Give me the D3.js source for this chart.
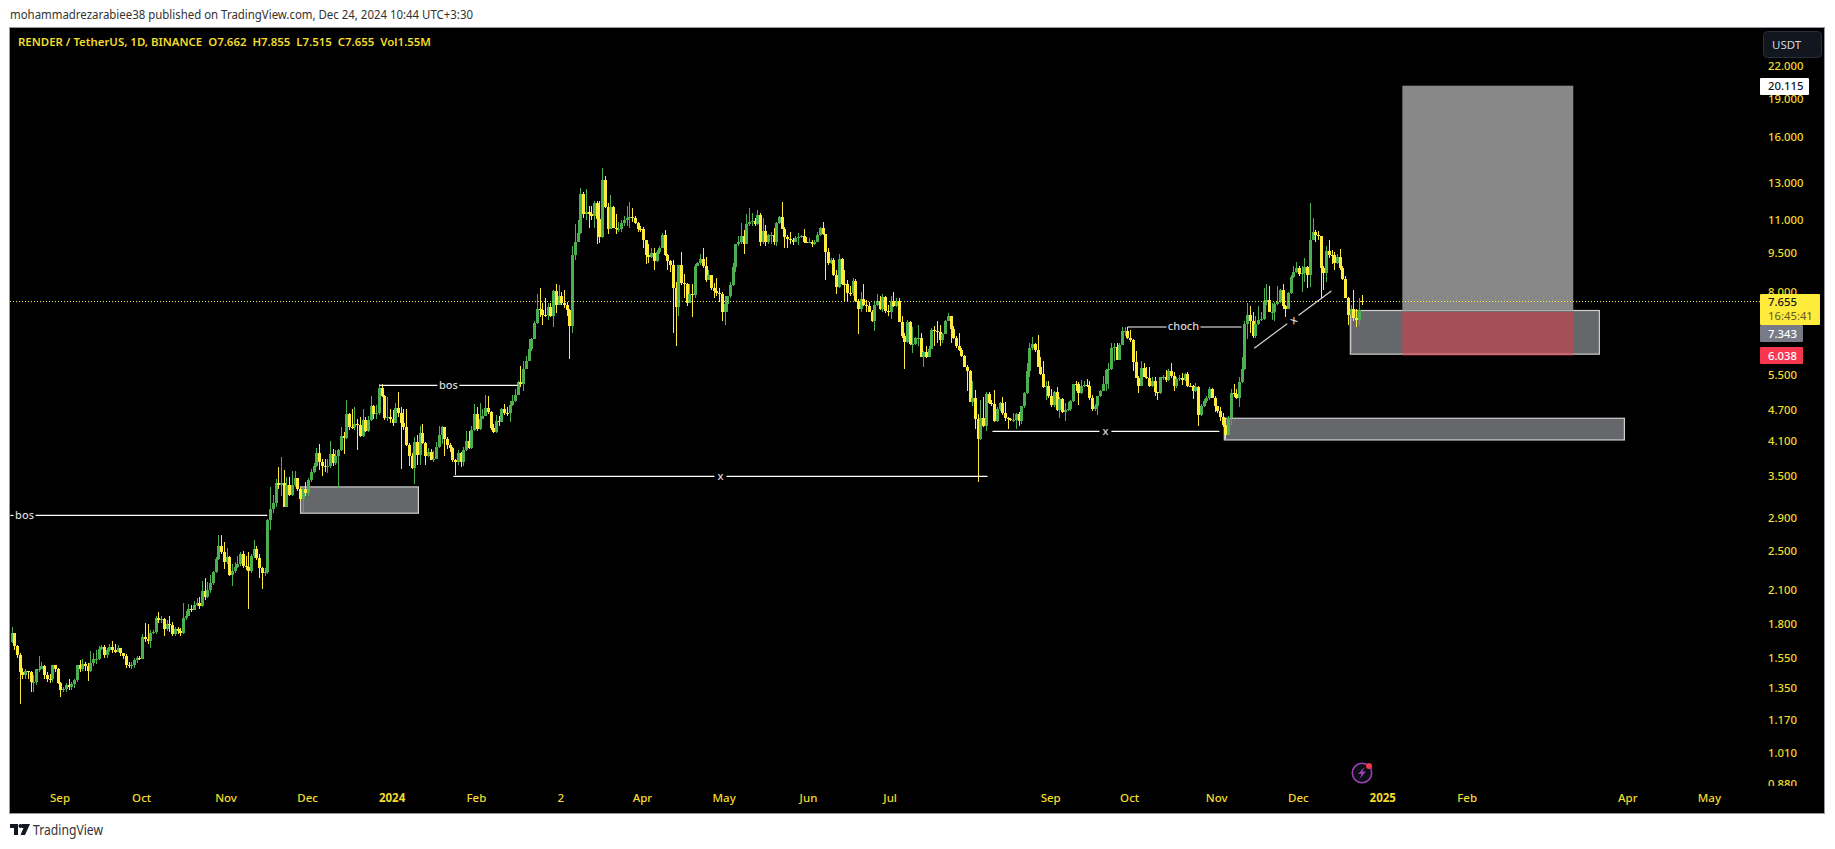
<!DOCTYPE html>
<html><head><meta charset="utf-8">
<script src="https://cdn.jsdelivr.net/npm/d3@7/dist/d3.min.js"></script>
<style>
html,body{margin:0;padding:0;background:#fff;overflow:hidden}
svg{display:block}
text{font-family:"Noto Sans",sans-serif}
.tick text{fill:#f2dc2c}
</style></head><body>
<script>
const closes=[1.73,1.63,1.57,1.45,1.43,1.46,1.45,1.39,1.39,1.47,1.475,1.49,1.43,1.41,1.405,1.50,1.47,1.38,1.34,1.345,
1.37,1.36,1.375,1.40,1.50,1.47,1.505,1.49,1.46,1.51,1.54,1.54,1.61,1.625,1.57,1.60,1.625,1.60,1.59,1.62,
1.58,1.56,1.50,1.49,1.50,1.53,1.545,1.54,1.70,1.685,1.67,1.73,1.74,1.85,1.83,1.84,1.76,1.80,1.795,1.72,
1.76,1.745,1.73,1.85,1.87,1.93,1.92,1.96,1.975,1.95,2.09,2.03,2.10,2.16,2.27,2.41,2.56,2.49,2.38,2.43,
2.24,2.28,2.33,2.36,2.47,2.34,2.33,2.28,2.44,2.52,2.42,2.31,2.26,2.27,2.87,3.02,3.10,3.39,3.36,3.39,
3.05,3.36,3.21,3.36,3.46,3.30,3.16,3.30,3.24,3.43,3.56,3.66,3.88,3.73,3.66,3.64,3.65,3.86,3.71,3.82,
3.93,4.18,4.15,4.62,4.36,4.35,4.41,4.39,4.18,4.49,4.28,4.49,4.79,4.62,4.64,5.18,5.00,4.53,4.55,4.52,
4.44,4.74,4.64,4.43,4.36,4.02,3.82,3.63,4.07,3.85,4.24,4.05,3.83,3.90,3.76,3.78,3.98,4.20,4.36,4.13,
4.02,3.97,3.75,3.73,3.88,3.72,3.93,4.09,3.97,4.30,4.62,4.32,4.51,4.58,4.74,4.66,4.34,4.26,4.47,4.45,
4.72,4.64,4.63,4.81,4.90,5.03,5.33,5.28,5.66,5.85,6.17,6.47,6.93,7.40,7.37,7.20,7.19,7.45,7.15,8.0,
7.51,7.85,7.61,7.54,7.35,6.85,9.40,10.0,10.4,12.4,11.3,11.4,11.3,11.2,11.9,11.05,10.2,13.2,11.7,10.6,
11.7,10.65,10.6,10.6,10.85,11.0,11.1,11.15,11.12,10.85,10.6,10.58,10.05,9.4,9.35,9.5,9.18,9.55,9.72,10.3,
9.4,9.18,9.0,8.13,7.45,9.0,8.3,8.28,7.6,7.9,7.86,8.97,9.1,9.26,8.95,8.43,8.62,8.13,8.03,7.93,
7.9,7.29,7.57,7.82,8.24,8.93,9.88,9.96,10.25,9.9,10.8,10.9,10.95,10.8,11.25,10.0,10.5,10.0,10.3,10.3,
10.0,10.85,11.15,10.6,10.2,10.1,10.08,10.0,10.15,10.22,10.25,10.0,9.98,10.0,9.9,10.0,10.3,10.65,10.35,9.56,
9.1,9.22,8.62,8.17,9.27,8.28,8.27,7.95,7.93,8.38,7.67,7.4,7.74,7.54,7.48,7.3,7.0,7.54,7.65,7.4,
7.8,7.33,7.3,7.67,7.5,7.65,6.98,6.55,6.37,6.98,6.33,6.33,6.49,6.5,5.95,6.1,5.97,6.17,6.72,6.7,
6.68,6.42,6.6,7.02,7.15,6.75,6.48,6.25,6.15,5.98,5.7,5.6,4.88,4.96,4.51,4.13,4.53,4.37,5.05,4.86,
4.83,4.47,4.72,4.86,4.64,4.53,4.52,4.49,4.49,4.62,4.47,4.79,5.08,5.6,6.2,6.32,6.15,5.7,5.52,5.21,
5.23,5.0,4.81,5.1,4.7,4.94,4.66,4.7,4.72,4.9,5.28,5.27,5.07,5.24,5.26,5.23,4.97,4.72,4.79,5.0,
5.12,5.28,5.62,5.64,6.2,6.23,5.88,6.3,6.69,6.7,6.5,6.43,5.82,5.43,5.24,5.68,5.45,5.43,5.24,5.35,
5.1,5.08,5.46,5.46,5.38,5.6,5.47,5.23,5.4,5.42,5.37,5.52,5.24,5.23,5.11,5.21,4.6,4.79,4.9,4.95,
5.16,4.97,4.79,4.69,4.56,4.4,4.2,4.53,5.07,5.05,4.97,5.33,5.64,6.92,7.2,7.0,6.55,6.9,7.05,7.08,
7.67,7.7,7.3,7.3,7.55,7.62,8.05,7.48,7.4,7.93,8.55,8.74,8.88,8.65,8.7,8.93,8.6,10.08,10.45,10.28,
10.25,8.9,8.7,9.6,9.42,9.4,9.08,9.35,8.9,8.47,7.78,7.2,7.38,7.1,7.03,7.35,7.655];
const highs=[1.78,1.73,1.64,1.58,1.48,1.47,1.45,1.46,1.43,1.47,1.56,1.52,1.50,1.45,1.44,1.50,1.50,1.48,1.39,1.36,
1.38,1.405,1.39,1.41,1.50,1.53,1.54,1.52,1.51,1.595,1.58,1.60,1.63,1.64,1.64,1.62,1.65,1.67,1.65,1.64,
1.62,1.58,1.575,1.52,1.52,1.55,1.56,1.56,1.72,1.81,1.80,1.75,1.75,1.87,1.90,1.87,1.85,1.83,1.87,1.82,
1.78,1.78,1.77,1.98,1.91,1.97,1.96,2.00,2.02,2.03,2.18,2.21,2.17,2.24,2.28,2.43,2.68,2.69,2.60,2.53,
2.44,2.36,2.38,2.44,2.49,2.50,2.44,2.49,2.46,2.63,2.56,2.47,2.33,2.31,2.89,3.33,3.21,3.45,3.64,3.80,
3.60,3.48,3.48,3.58,3.58,3.47,3.33,3.34,3.40,3.46,3.61,3.71,3.96,4.03,3.78,3.78,3.77,4.09,3.95,3.93,
3.95,4.36,4.26,4.92,4.64,4.72,4.77,4.51,4.55,4.72,4.55,4.57,5.00,4.81,4.81,5.28,5.28,5.03,4.98,4.72,
4.70,4.85,5.09,4.77,4.72,4.72,4.05,3.88,4.17,4.20,4.38,4.42,4.07,3.97,3.95,3.91,4.07,4.38,4.38,4.36,
4.17,4.05,3.98,3.78,3.93,3.90,3.99,4.28,4.28,4.38,4.83,4.77,4.85,4.72,5.03,5.00,4.68,4.41,4.60,4.58,
4.74,4.83,4.77,4.90,5.03,5.16,5.35,5.73,5.85,5.98,6.47,6.50,6.99,7.92,8.13,7.58,7.78,7.60,7.58,8.06,
8.28,8.25,7.99,8.06,7.64,7.40,9.82,10.8,11.0,12.7,12.5,12.65,11.75,11.75,12.0,12.0,12.0,13.9,13.4,11.9,
12.3,11.75,11.3,10.9,11.02,11.2,11.75,11.95,11.6,11.2,10.92,10.73,10.68,10.08,9.9,9.73,9.73,9.64,9.82,10.4,
10.54,9.47,9.22,9.22,8.36,9.0,9.56,8.66,8.32,8.28,8.28,9.06,9.14,9.47,9.73,9.35,8.82,8.62,8.32,8.51,
8.13,7.96,7.85,7.85,8.36,9.1,9.9,10.26,10.85,10.54,11.3,11.6,11.35,11.12,11.5,11.35,11.12,10.78,10.35,10.44,
10.63,10.92,11.2,11.95,10.68,10.3,10.44,10.17,10.26,10.4,10.3,10.58,10.2,10.17,10.08,10.08,10.44,10.7,10.9,10.35,
9.73,9.3,9.3,8.82,9.47,9.3,8.82,8.4,8.21,8.51,8.47,7.72,7.99,8.28,7.68,7.64,7.36,7.62,7.92,7.82,
7.92,7.85,7.54,7.82,7.99,7.78,7.78,7.18,6.63,7.05,7.0,6.81,6.51,6.87,6.63,6.12,6.25,6.25,6.78,6.84,
7.02,6.87,6.63,7.03,7.25,7.18,6.84,6.54,6.63,6.2,6.01,5.75,5.62,5.35,5.14,4.62,4.92,4.98,5.1,5.1,
4.92,5.14,4.77,4.87,4.98,4.87,4.56,4.54,4.64,4.64,4.66,4.79,5.1,5.8,6.34,6.51,6.36,6.57,5.95,5.85,
5.35,5.35,5.16,5.12,5.21,4.98,4.96,4.85,4.87,4.92,5.28,5.35,5.33,5.38,5.35,5.4,5.35,5.03,4.83,5.0,
5.14,5.47,5.64,5.8,6.34,6.34,6.34,6.36,6.81,6.81,6.81,6.72,6.45,6.12,5.47,5.85,5.8,5.7,5.7,5.45,
5.45,5.1,5.46,5.5,5.62,5.64,5.8,5.58,5.45,5.5,5.55,5.55,5.58,5.31,5.26,5.31,5.23,4.83,4.94,5.0,
5.21,5.18,5.0,4.77,4.77,4.64,4.54,4.58,5.16,5.28,5.16,5.45,5.95,6.99,7.6,7.5,7.31,7.15,7.5,7.31,
8.13,8.28,8.2,7.6,7.62,8.2,8.1,8.28,7.51,7.99,8.6,8.98,9.14,8.95,8.95,9.3,8.98,11.88,11.12,10.54,
10.49,10.26,8.95,9.82,10.08,9.64,9.56,9.47,9.68,8.95,8.58,7.8,7.51,8.06,7.38,7.78,7.855];
const lows=[1.655,1.60,1.55,1.26,1.41,1.41,1.41,1.33,1.33,1.37,1.45,1.47,1.41,1.39,1.38,1.39,1.45,1.375,1.30,1.33,
1.33,1.34,1.34,1.35,1.39,1.45,1.46,1.46,1.395,1.45,1.49,1.505,1.53,1.60,1.55,1.55,1.59,1.58,1.58,1.59,
1.56,1.54,1.48,1.48,1.475,1.48,1.51,1.53,1.54,1.66,1.65,1.62,1.72,1.72,1.81,1.81,1.71,1.745,1.74,1.71,
1.71,1.72,1.71,1.72,1.83,1.87,1.90,1.92,1.95,1.93,1.94,2.01,2.02,2.07,2.15,2.26,2.40,2.47,2.30,2.36,
2.23,2.14,2.26,2.31,2.34,2.31,2.29,1.93,2.26,2.42,2.40,2.21,2.11,2.23,2.25,2.75,2.96,3.05,3.30,3.19,
3.04,3.05,3.20,3.20,3.33,3.27,3.12,2.98,3.19,3.19,3.40,3.55,3.64,3.60,3.50,3.56,3.55,3.63,3.66,3.68,
3.32,3.91,3.86,4.13,4.30,4.31,4.30,3.93,4.17,4.17,4.26,4.26,4.47,4.52,4.51,4.60,4.98,4.50,4.48,4.44,
4.37,4.43,4.56,3.61,4.30,4.00,3.66,3.61,3.38,3.68,3.68,4.03,3.68,3.80,3.75,3.73,3.77,3.97,4.04,3.82,
3.95,3.89,3.73,3.51,3.68,3.64,3.66,3.91,3.95,3.95,4.28,4.28,4.30,4.51,4.60,4.62,4.30,4.24,4.24,4.37,
4.45,4.60,4.58,4.45,4.79,4.88,5.03,5.21,5.12,5.64,5.85,6.12,6.45,6.90,7.12,6.87,7.12,7.05,7.12,6.81,
7.25,7.51,7.51,7.44,7.18,5.90,6.63,9.22,10.0,10.35,11.1,11.02,10.63,11.02,10.63,9.9,9.95,10.17,11.65,10.35,
10.6,10.63,10.35,10.44,10.44,10.73,10.73,10.63,10.92,10.82,10.44,10.44,9.73,9.06,9.1,9.3,8.82,9.14,9.47,9.7,
9.37,8.82,8.74,6.63,6.25,7.15,8.25,7.78,7.5,7.58,7.12,7.78,8.95,9.02,8.88,8.36,8.4,8.06,7.78,7.82,
7.64,7.0,6.87,7.31,7.78,8.21,8.74,9.82,9.9,9.47,9.9,10.73,10.73,10.73,10.78,9.82,9.9,9.82,9.9,9.9,
9.86,9.82,10.82,10.58,9.73,9.7,9.9,9.86,9.96,9.86,10.17,9.95,9.95,9.95,9.78,9.86,9.99,10.26,10.3,8.4,
9.0,9.05,8.58,7.9,8.13,8.25,7.64,7.64,7.85,7.85,7.64,6.6,7.31,7.49,7.31,7.28,6.97,6.7,7.5,7.36,
7.31,7.27,7.15,7.08,7.46,7.47,6.97,6.5,5.66,6.34,6.3,6.06,6.3,6.25,5.95,5.7,5.94,5.95,6.17,6.25,
6.34,6.25,6.36,6.63,6.99,6.34,6.45,6.2,6.12,5.95,5.7,5.12,4.87,4.79,4.32,3.40,4.11,4.35,4.28,4.83,
4.79,4.46,4.46,4.68,4.6,4.47,4.32,4.47,4.45,4.32,4.37,4.41,4.75,5.05,5.45,6.15,6.1,5.7,5.5,5.19,
4.92,4.97,4.77,4.77,4.68,4.54,4.64,4.47,4.68,4.68,4.88,5.12,4.81,5.06,5.2,5.21,4.92,4.68,4.68,4.6,
4.98,5.12,5.12,5.16,5.62,5.85,5.87,5.87,6.28,6.55,6.45,6.39,5.6,5.43,5.08,5.23,5.44,5.4,5.21,5.21,
5.0,4.92,5.05,5.38,5.33,5.35,5.43,5.12,5.19,5.35,5.26,5.35,5.22,5.21,4.94,5.1,4.37,4.58,4.77,4.85,
4.92,4.95,4.66,4.64,4.47,4.36,4.13,4.2,4.39,4.98,4.94,4.77,5.31,5.62,6.45,6.63,6.5,6.5,6.87,6.99,
7.05,7.54,7.28,7.05,7.02,7.51,7.58,7.38,7.12,7.38,7.92,8.51,8.7,8.58,7.99,8.36,8.13,8.16,10.08,9.96,
10.08,7.78,8.06,8.36,9.3,9.06,8.82,9.05,8.82,8.43,7.75,6.87,6.1,6.99,6.81,6.87,7.515];
const firstOpen=1.66, lastOpen=7.662;

const priceTicks=[22,19,16,13,11,9.5,8,6.5,5.5,4.7,4.1,3.5,2.9,2.5,2.1,1.8,1.55,1.35,1.17,1.01,0.88];
const timeBars=[18,48,79,109,140,171,202,232,262,293,323,382,411,443,473,504,535,594,624];
const timeLabels=["Sep","Oct","Nov","Dec","2024","Feb","2","Apr","May","Jun","Jul","Sep","Oct","Nov","Dec","2025","Feb","Apr","May"];
const boldLabels=["2024","2025"];

const hLines=[
 {a:-0.4,b:94,p:2.93,t:"bos",c:4.8,gap:11},
 {a:135.2,b:185.9,p:5.25,t:"bos",c:160.5,gap:11},
 {a:162.4,b:358.6,p:3.49,t:"x",c:260.5,gap:6},
 {a:360.4,b:443.8,p:4.27,t:"x",c:401.9,gap:6},
 {a:410,b:451.9,p:6.82,t:"choch",c:430.6,gap:17}];
const zones=[{a:106.2,b:149.5,top:3.33,bot:2.96},{a:445.6,b:592.6,top:4.53,bot:4.11},{a:491.9,b:583.4,top:7.343,bot:6.038}];
const diag={a:456.6,pa:6.2,b:484.9,pb:8.01,c:471,pc:7.03};
const longPos={a:511,b:573.8,target:20.115,entry:7.343,stop:6.038};
const lastPrice=7.655;

const W=1835,H=849;
const x=d3.scaleLinear().domain([0,closes.length-1]).range([11.5,1361.5]);
const y=d3.scaleLog().domain([22,0.88]).range([65.7,783.8]);
const UP="#4caf50",DOWN="#ffeb3b";
const bars=closes.map((c,i)=>({i,c,h:highs[i],l:lows[i],o:i===0?firstOpen:(i===closes.length-1?lastOpen:closes[i-1])}));

const svg=d3.select("body").append("svg").attr("width",W).attr("height",H).attr("viewBox",`0 0 ${W} ${H}`);
const defs=svg.append("defs");
defs.append("clipPath").attr("id","pane").append("rect").attr("x",10).attr("y",28).attr("width",1750).attr("height",758);
defs.append("clipPath").attr("id","scale").append("rect").attr("x",1760).attr("y",58).attr("width",64).attr("height",728);

svg.append("text").attr("x",10).attr("y",19).attr("font-size",12).attr("fill","#333").attr("textLength",463).attr("lengthAdjust","spacingAndGlyphs")
 .text("mohammadrezarabiee38 published on TradingView.com, Dec 24, 2024 10:44 UTC+3:30");
svg.append("rect").attr("x",9.5).attr("y",27.5).attr("width",1815).attr("height",786).attr("fill","#000").attr("stroke","#9598a1");

const pane=svg.append("g").attr("clip-path","url(#pane)");
pane.selectAll("rect.zone").data(zones).join("rect").attr("class","zone")
 .attr("x",d=>x(d.a)).attr("width",d=>x(d.b)-x(d.a)).attr("y",d=>y(d.top)).attr("height",d=>y(d.bot)-y(d.top))
 .attr("fill","#66676a").attr("stroke","#cfcfd2").attr("stroke-width",1.2);
const cg=pane.append("g").attr("shape-rendering","crispEdges");
cg.selectAll("rect.w").data(bars).join("rect").attr("class","w")
 .attr("x",d=>Math.round(x(d.i))).attr("width",1).attr("y",d=>y(d.h)).attr("height",d=>Math.max(1,y(d.l)-y(d.h)))
 .attr("fill",d=>d.c>=d.o?UP:DOWN);
cg.selectAll("rect.b").data(bars).join("rect").attr("class","b")
 .attr("x",d=>Math.round(x(d.i))-1).attr("width",3).attr("y",d=>y(Math.max(d.o,d.c))).attr("height",d=>Math.max(1,Math.abs(y(d.o)-y(d.c))))
 .attr("fill",d=>d.c>=d.o?UP:DOWN);
const lg=pane.append("g");
lg.append("rect").attr("x",x(longPos.a)).attr("width",x(longPos.b)-x(longPos.a)).attr("y",y(longPos.target)).attr("height",y(longPos.entry)-y(longPos.target)).attr("fill","#888888");
lg.append("rect").attr("x",x(longPos.a)).attr("width",x(longPos.b)-x(longPos.a)).attr("y",y(longPos.entry)+1.5).attr("height",y(longPos.stop)-y(longPos.entry)).attr("fill","#f23645").attr("fill-opacity",.45);
pane.append("line").attr("x1",10).attr("x2",1760).attr("y1",Math.round(y(lastPrice))+.5).attr("y2",Math.round(y(lastPrice))+.5)
 .attr("stroke","#ffeb3b").attr("stroke-dasharray","1 2").attr("shape-rendering","crispEdges");
const hg=pane.selectAll("g.hl").data(hLines).join("g").attr("class","hl");
hg.append("line").attr("x1",d=>x(d.a)).attr("x2",d=>x(d.c)-d.gap).attr("y1",d=>y(d.p)).attr("y2",d=>y(d.p)).attr("stroke","#fff").attr("stroke-width",1.2);
hg.append("line").attr("x1",d=>x(d.c)+d.gap).attr("x2",d=>x(d.b)).attr("y1",d=>y(d.p)).attr("y2",d=>y(d.p)).attr("stroke","#fff").attr("stroke-width",1.2);
hg.append("text").attr("x",d=>x(d.c)).attr("y",d=>y(d.p)+3.5).attr("text-anchor","middle").attr("font-size",11).attr("font-weight",500).attr("fill","#d8d8d8").text(d=>d.t);
pane.append("line").attr("x1",x(diag.a)).attr("y1",y(diag.pa)).attr("x2",x(diag.b)).attr("y2",y(diag.pb)).attr("stroke","#d4d4d6").attr("stroke-width",1.2);
const ang=Math.atan2(y(diag.pb)-y(diag.pa),x(diag.b)-x(diag.a))*180/Math.PI;
const dg=pane.append("g").attr("transform",`translate(${x(diag.c)},${y(diag.pc)}) rotate(${ang})`);
dg.append("rect").attr("x",-7).attr("y",-6).attr("width",14).attr("height",12).attr("fill","#000");
dg.append("text").attr("y",3.5).attr("text-anchor","middle").attr("font-size",11).attr("font-weight",500).attr("fill","#d8d8d8").text("x");

const yAxis=d3.axisRight(y).tickValues(priceTicks).tickSize(0).tickPadding(0).tickFormat(d3.format(".3f"));
const ya=svg.append("g").attr("clip-path","url(#scale)").append("g").attr("transform","translate(1768,0)").call(yAxis);
ya.select(".domain").remove();
ya.selectAll("text").attr("font-size",11.3).attr("font-weight",500).attr("font-family",'"Noto Sans",sans-serif');
const xAxis=d3.axisBottom(x).tickValues(timeBars).tickSize(0).tickPadding(8).tickFormat((d,i)=>timeLabels[i]);
const xa=svg.append("g").attr("transform","translate(-1,786)").call(xAxis);
xa.select(".domain").remove();
xa.selectAll("text").attr("font-size",11.5).attr("font-family",'"Noto Sans",sans-serif')
 .attr("font-weight",(d,i)=>boldLabels.includes(timeLabels[i])?700:500);

function tag(py,w,h,bg,fg,label){
 svg.append("rect").attr("x",1760).attr("y",py-h/2).attr("width",w).attr("height",h).attr("rx",1).attr("fill",bg);
 svg.append("text").attr("x",1768).attr("y",py+4).attr("font-size",11.3).attr("font-weight",500).attr("fill",fg).text(label);
}
tag(y(longPos.target)+.8,49,17,"#fff","#131722",d3.format(".3f")(longPos.target));
svg.append("rect").attr("x",1760).attr("y",294).attr("width",60).attr("height",31).attr("rx",1).attr("fill","#ffeb3b");
svg.append("text").attr("x",1768).attr("y",306).attr("font-size",11.3).attr("font-weight",500).attr("fill","#131722").text(d3.format(".3f")(lastPrice));
svg.append("text").attr("x",1768).attr("y",320).attr("font-size",11.3).attr("fill","#5f5a1e").text("16:45:41");
tag(333.5,43,17,"#787b86","#fff",d3.format(".3f")(longPos.entry));
tag(355.5,43,17,"#f7374f","#fff",d3.format(".3f")(longPos.stop));

svg.append("rect").attr("x",1763.5).attr("y",31.5).attr("width",58).attr("height",26).attr("rx",4).attr("fill","#12161f").attr("stroke","#2a2e39");
svg.append("text").attr("x",1772).attr("y",49).attr("font-size",11.5).attr("fill","#d1d4dc").text("USDT");

svg.append("text").attr("x",18).attr("y",46).attr("font-size",11.5).attr("font-weight",600).attr("fill","#f2dc2c").attr("textLength",413).attr("lengthAdjust","spacingAndGlyphs")
 .text("RENDER / TetherUS, 1D, BINANCE\u00a0\u00a0O7.662\u00a0\u00a0H7.855\u00a0\u00a0L7.515\u00a0\u00a0C7.655\u00a0\u00a0Vol1.55M");

const bolt=svg.append("g").attr("transform","translate(1362,773)");
bolt.append("circle").attr("r",9.7).attr("fill","#131722").attr("fill-opacity",.6).attr("stroke","#9c3fb5").attr("stroke-width",1.6);
bolt.append("path").attr("d","M2.5-6 L-4 1 L-.5 1 L-2.5 6 L4-1.5 L.5-1.5Z").attr("fill","#9c3fb5");
bolt.append("circle").attr("cx",7).attr("cy",-7).attr("r",3).attr("fill","#f7374f");

const logo=svg.append("g").attr("transform","translate(10,824)").attr("fill","#131722");
logo.append("path").attr("d","M0 0H8V11H4V4H0Z M12 0H20L15 11H10.5L13.5 4 H12Z");
logo.append("circle").attr("cx",10.5).attr("cy",2).attr("r",2);
svg.append("text").attr("x",33).attr("y",835).attr("font-size",13.5).attr("fill","#333").attr("textLength",70).attr("lengthAdjust","spacingAndGlyphs").text("TradingView");
</script>
</body></html>
